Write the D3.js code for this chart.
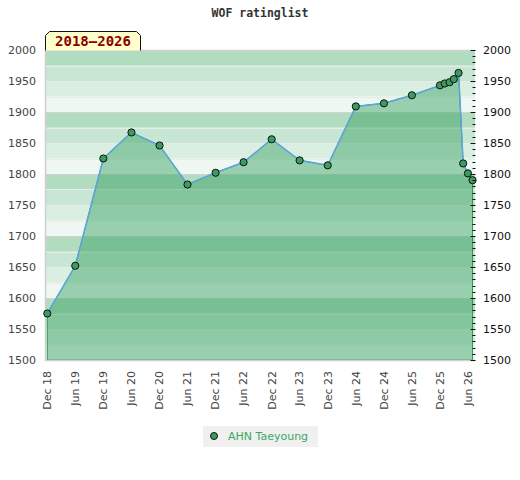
<!DOCTYPE html>
<html><head><meta charset="utf-8">
<script src="https://cdn.jsdelivr.net/npm/d3@7"></script>
<style>body{margin:0;background:#fff}svg{display:block}</style>
</head><body>
<script>
const title = "WOF ratinglist";
const periodLabel = "2018–2026";
const playerName = "AHN Taeyoung";
const months = ["2018-12","2019-06","2019-12","2020-06","2020-12","2021-06","2021-12","2022-06","2022-12","2023-06","2023-12","2024-06","2024-12","2025-06","2025-12","2026-01","2026-02","2026-03","2026-04","2026-05","2026-06","2026-07"];
const ratings = [1575,1652,1825,1867,1846,1783,1802,1819,1856,1822,1814,1909,1914,1927,1943,1946,1948,1953,1963,1817,1801,1790];
const xTickLabels = ["Dec 18","Jun 19","Dec 19","Jun 20","Dec 20","Jun 21","Dec 21","Jun 22","Dec 22","Jun 23","Dec 23","Jun 24","Dec 24","Jun 25","Dec 25","Jun 26"];
const xTickMonths = ["2018-12","2019-06","2019-12","2020-06","2020-12","2021-06","2021-12","2022-06","2022-12","2023-06","2023-12","2024-06","2024-12","2025-06","2025-12","2026-06"];
const yDomain = [1500, 2000];
const xDomain = ["2018-11-16", "2026-07-17"];

const W = 520, H = 480;
const L = 45, R = 475, T = 50, B = 360;
const parseM = d3.utcParse("%Y-%m");
const parseD = d3.utcParse("%Y-%m-%d");
const data = months.map((m, i) => ({date: parseM(m), v: ratings[i]}));

const svg = d3.select("body").append("svg").attr("width", W).attr("height", H);
const x = d3.scaleUtc().domain(xDomain.map(parseD)).range([L, R]);
const y = d3.scaleLinear().domain(yDomain).range([B, T]);

// bands
const bandColors = ["#eef7f1", "#dbeee2", "#c7e6d3", "#b2dcc0"];
const bandStarts = d3.range(yDomain[0], yDomain[1], 25);
svg.append("g").selectAll("rect").data(bandStarts).join("rect")
  .attr("x", L).attr("width", R - L)
  .attr("y", d => y(d + 25)).attr("height", d => y(d) - y(d + 25))
  .attr("fill", d => bandColors[((d - yDomain[0]) / 25) % 4]);

// grid lines
svg.append("g").selectAll("line").data(d3.range(yDomain[0] + 25, yDomain[1], 25)).join("line")
  .attr("x1", L).attr("x2", R)
  .attr("y1", d => Math.round(y(d)) + 0.5).attr("y2", d => Math.round(y(d)) + 0.5)
  .attr("stroke", d => (d % 100 === 0) ? "#d2d2d2" : "#e6ece8")
  .attr("stroke-width", 1);

// area
const area = d3.area().x(d => x(d.date)).y0(y(yDomain[0])).y1(d => y(d.v));
svg.append("path").datum(data).attr("d", area)
  .attr("fill", "rgb(56,162,97)").attr("fill-opacity", 0.47)
  .attr("stroke", "#2c9a52").attr("stroke-width", 1);

// border
svg.append("path")
  .attr("d", `M${R},${T + 0.5}H${L + 0.5}V${B + 0.5}H${R}`)
  .attr("fill", "none").attr("stroke", "#cfcfcf").attr("stroke-width", 1.5);

// line
const line = d3.line().x(d => x(d.date)).y(d => y(d.v));
svg.append("path").datum(data).attr("d", line)
  .attr("fill", "none").attr("stroke", "#5ba6dc").attr("stroke-width", 1.5);

// points
svg.append("g").selectAll("circle").data(data).join("circle")
  .attr("cx", d => x(d.date)).attr("cy", d => y(d.v)).attr("r", 3.6)
  .attr("fill", "#3a9d5d").attr("stroke", "#111").attr("stroke-width", 1);

// left axis labels
const yLabels = d3.range(yDomain[0], yDomain[1] + 1, 50);
svg.append("g").selectAll("text").data(yLabels).join("text")
  .attr("x", 36).attr("y", d => y(d)).attr("dy", "0.35em")
  .attr("text-anchor", "end").attr("font-family", "DejaVu Sans").attr("font-size", 11)
  .attr("fill", "#444").text(d => d);

// right axis
const ax = x(data[data.length - 1].date);
svg.append("g").selectAll("line").data(d3.range(yDomain[0], yDomain[1] + 1, 10)).join("line")
  .attr("x1", d => d % 50 === 0 ? ax - 2 : ax).attr("x2", ax + 3)
  .attr("y1", d => Math.round(y(d)) + 0.5).attr("y2", d => Math.round(y(d)) + 0.5)
  .attr("stroke", "#111").attr("stroke-width", 1);
svg.append("g").selectAll("text").data(yLabels).join("text")
  .attr("x", 483).attr("y", d => y(d)).attr("dy", "0.35em")
  .attr("text-anchor", "start").attr("font-family", "DejaVu Sans").attr("font-size", 11)
  .attr("fill", "#111").text(d => d);

// x labels
svg.append("g").selectAll("text").data(xTickMonths).join("text")
  .attr("transform", d => `translate(${x(parseM(d))},371) rotate(-90)`)
  .attr("dy", "0.35em").attr("text-anchor", "end")
  .attr("font-family", "DejaVu Sans").attr("font-size", 11).attr("fill", "#444")
  .text((d, i) => xTickLabels[i]);

// title
svg.append("text").attr("x", 260).attr("y", 17).attr("text-anchor", "middle")
  .attr("font-family", "DejaVu Sans Mono").attr("font-weight", "bold").attr("font-size", 11.5)
  .attr("fill", "#333").text(title);

// period tag
const tx0 = 45.5, tx1 = 140.5, ty0 = 31.5, ty1 = 50.5, c = 4;
svg.append("path")
  .attr("d", `M${tx0},${ty1}V${ty0 + c}L${tx0 + c},${ty0}H${tx1 - c}L${tx1},${ty0 + c}V${ty1}`)
  .attr("fill", "#ffffcc").attr("stroke", "#111").attr("stroke-width", 1);
svg.append("text").attr("x", (tx0 + tx1) / 2).attr("y", 46).attr("text-anchor", "middle")
  .attr("font-family", "DejaVu Sans Mono").attr("font-weight", "bold").attr("font-size", 14)
  .attr("fill", "#8b0000").text(periodLabel);

// legend
svg.append("rect").attr("x", 203).attr("y", 426).attr("width", 115).attr("height", 21).attr("fill", "#f0f0f0");
svg.append("circle").attr("cx", 214).attr("cy", 436).attr("r", 3.5)
  .attr("fill", "#3a9d5d").attr("stroke", "#111").attr("stroke-width", 1);
svg.append("text").attr("x", 228).attr("y", 440)
  .attr("font-family", "DejaVu Sans").attr("font-size", 11).attr("fill", "#3aa862").text(playerName);
</script>
</body></html>
